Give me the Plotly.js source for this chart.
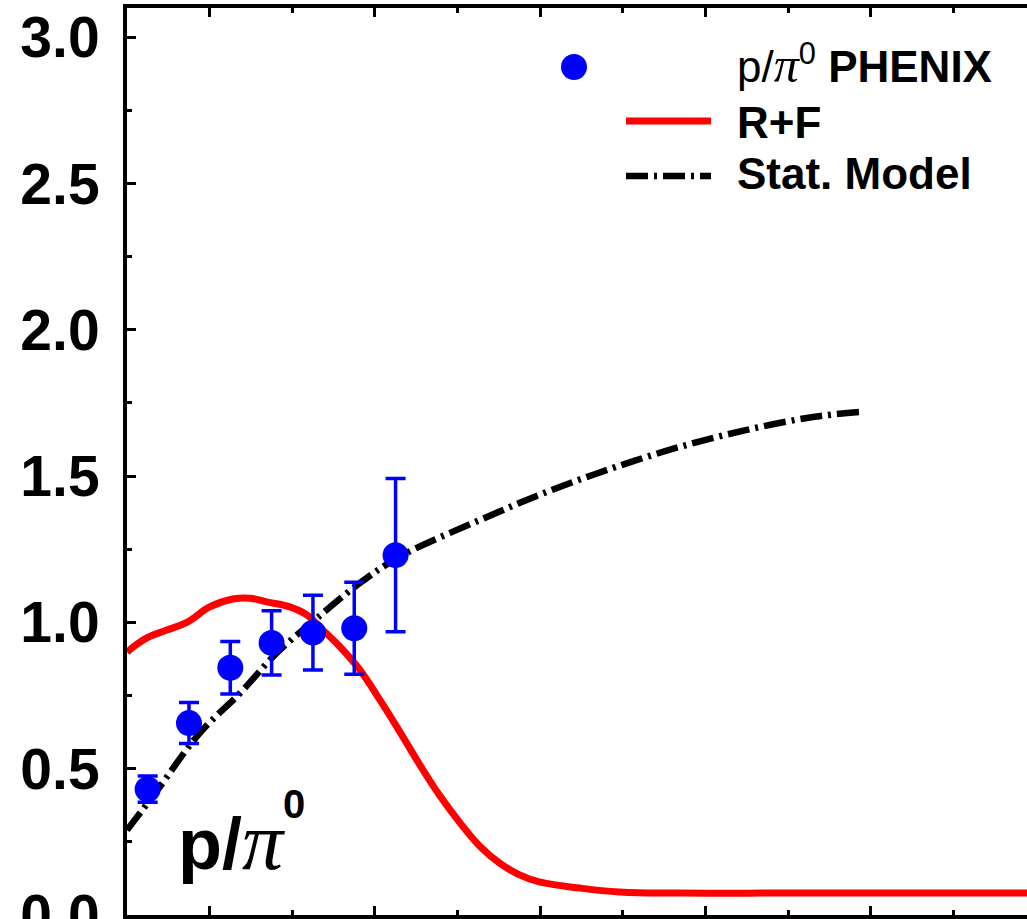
<!DOCTYPE html>
<html>
<head>
<meta charset="utf-8">
<script src="https://cdn.plot.ly/plotly-3.0.1.min.js"></script>
<style>
html,body{margin:0;padding:0;overflow:hidden;background:#fff;width:1027px;height:919px;}
#chart{width:1050px;height:960px;}
</style>
</head>
<body>
<div id="chart"></div>
<script>
// PHENIX p/pi0 data points
const phenixX = [1.25, 1.75, 2.25, 2.75, 3.25, 3.75, 4.25];
const phenixY = [0.43, 0.656, 0.845, 0.93, 0.965, 0.98, 1.23];
const phenixErr = [0.045, 0.07, 0.09, 0.11, 0.128, 0.157, 0.262];

// R+F (recombination + fragmentation) curve
const rfX = [1.0, 1.24, 1.48, 1.73, 2.0, 2.28, 2.49, 2.69, 2.97, 3.18, 3.37, 3.58, 3.82, 4.06, 4.3, 4.54, 4.78, 5.03, 5.27, 5.51, 5.75, 5.99, 6.48, 6.96, 7.69, 9.14, 12.0];
const rfY = [0.899, 0.947, 0.974, 1.001, 1.053, 1.08, 1.083, 1.07, 1.053, 1.025, 0.974, 0.916, 0.837, 0.735, 0.627, 0.515, 0.41, 0.315, 0.235, 0.177, 0.137, 0.113, 0.092, 0.079, 0.075, 0.075, 0.075];

// Statistical model curve
const smX = [1.0, 1.36, 1.88, 2.37, 2.81, 3.3, 3.82, 4.3, 5.27, 6.08, 6.88, 7.69, 8.5, 9.3, 9.86];
const smY = [0.29, 0.424, 0.622, 0.759, 0.895, 1.015, 1.135, 1.225, 1.35, 1.446, 1.528, 1.6, 1.658, 1.702, 1.719];

// Axis ticks
const yTickVals = [0.0, 0.5, 1.0, 1.5, 2.0, 2.5, 3.0];
const yTickText = ['0.0', '0.5', '1.0', '1.5', '2.0', '2.5', '3.0'];

// Legend labels
const legendData = 'p/<i><span style="font-family:\'Liberation Serif\';font-size:50px">π</span></i><sup>0</sup> <b>PHENIX</b>';
const legendRF = '<b>R+F</b>';
const legendSM = '<b>Stat. Model</b>';
const panelLabel = '<b>p/</b><i><span style="font-family:\'Liberation Serif\';font-size:82px">π</span></i><sup><sup><b><span style="font-size:40px">0</span></b></sup></sup>';

const DASH = '22px,6px,3px,6px';
const FONT = 'Liberation Sans, Arial, Helvetica, sans-serif';

const traces = [
  {
    x: rfX, y: rfY, type: 'scatter', mode: 'lines', name: 'R+F',
    line: {color: '#ff0000', width: 7, shape: 'spline', smoothing: 1.2},
    showlegend: false, hoverinfo: 'skip'
  },
  {
    x: smX, y: smY, type: 'scatter', mode: 'lines', name: 'Stat. Model',
    line: {color: '#000000', width: 6.5, dash: DASH, shape: 'spline', smoothing: 1.0},
    showlegend: false, hoverinfo: 'skip'
  },
  {
    x: phenixX, y: phenixY, type: 'scatter', mode: 'markers', name: 'p/π0 PHENIX',
    marker: {color: '#0000ff', size: 26, line: {width: 0}},
    error_y: {type: 'data', array: phenixErr, visible: true, color: '#0000ff', thickness: 3.5, width: 10},
    showlegend: false, hoverinfo: 'skip'
  }
];

// plot area in pixels: x 127..1036, y 8..915
const L = 127, R = 1036, T = 8, B = 915;
const px = v => (v - L) / (R - L);
const py = v => (B - v) / (B - T);

const layout = {
  width: 1050, height: 960,
  margin: {l: L, r: 1050 - R, t: T, b: 960 - B, pad: 0},
  paper_bgcolor: '#ffffff', plot_bgcolor: '#ffffff',
  showlegend: false,
  xaxis: {
    range: [1, 12], showgrid: false, zeroline: false,
    showline: true, linecolor: '#000', linewidth: 4, mirror: 'ticks',
    ticks: 'inside', tickmode: 'array', tickvals: [2, 4, 6, 8, 10, 12], ticklen: 9, tickwidth: 3, tickcolor: '#000',
    minor: {ticks: 'inside', tickvals: [1, 3, 5, 7, 9, 11], ticklen: 5, tickwidth: 3, tickcolor: '#000'},
    showticklabels: false
  },
  yaxis: {
    range: [0, 3.1], showgrid: false, zeroline: false,
    showline: true, linecolor: '#000', linewidth: 4, mirror: 'ticks',
    ticks: 'inside', tickmode: 'array', tickvals: yTickVals, ticktext: yTickText, ticklen: 9, tickwidth: 3, tickcolor: '#000',
    minor: {ticks: 'inside', dtick: 0.25, ticklen: 5, tickwidth: 3, tickcolor: '#000'},
    tickfont: {family: FONT, size: 57, color: '#000', weight: 'bold'},
    ticklabelstandoff: 12
  },
  shapes: [
    {type: 'circle', xref: 'paper', yref: 'paper', xsizemode: 'pixel', ysizemode: 'pixel',
     xanchor: px(574), yanchor: py(67), x0: -13, x1: 13, y0: -13, y1: 13,
     fillcolor: '#0000ff', line: {width: 0}},
    {type: 'line', xref: 'paper', yref: 'paper', x0: px(626), x1: px(711), y0: py(121), y1: py(121),
     line: {color: '#ff0000', width: 7}},
    {type: 'line', xref: 'paper', yref: 'paper', x0: px(626), x1: px(711), y0: py(176), y1: py(176),
     line: {color: '#000000', width: 6.5, dash: DASH}}
  ],
  annotations: [
    {xref: 'paper', yref: 'paper', x: px(735), y: py(64), xanchor: 'left', yanchor: 'middle',
     text: legendData, showarrow: false, font: {family: FONT, size: 44, color: '#000'}},
    {xref: 'paper', yref: 'paper', x: px(735), y: py(122), xanchor: 'left', yanchor: 'middle',
     text: legendRF, showarrow: false, font: {family: FONT, size: 44, color: '#000'}},
    {xref: 'paper', yref: 'paper', x: px(735), y: py(174), xanchor: 'left', yanchor: 'middle',
     text: legendSM, showarrow: false, font: {family: FONT, size: 44, color: '#000'}},
    {xref: 'paper', yref: 'paper', x: px(176), y: py(834), xanchor: 'left', yanchor: 'middle',
     text: panelLabel, showarrow: false, font: {family: FONT, size: 72, color: '#000'}}
  ]
};

Plotly.newPlot('chart', traces, layout, {staticPlot: true, displayModeBar: false});
</script>
</body>
</html>
